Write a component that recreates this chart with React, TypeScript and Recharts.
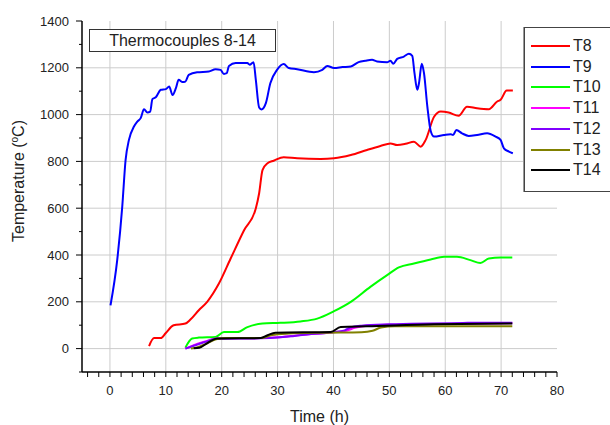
import { LineChart, Line, XAxis, YAxis, ReferenceLine } from 'recharts'

// [time h, temperature °C]
const T8: [number, number][] = [
  [7.0, 11], [7.9, 45], [9.1, 45], [10.0, 67], [11.4, 100], [13.5, 107], [14.4, 124], [15.9, 164],
  [17.4, 200], [19.5, 278], [21.6, 385], [24.0, 506], [26.1, 599], [26.7, 664], [27.3, 763],
  [28.2, 792], [29.3, 803], [31.1, 818], [33.5, 813], [37.7, 810], [40.1, 813], [43.1, 827],
  [46.0, 849], [48.4, 866], [50.2, 877], [51.4, 870], [52.9, 875], [54.4, 884], [55.6, 863],
  [56.5, 892], [58.0, 991], [59.2, 1013], [60.6, 1009], [62.4, 995], [63.9, 1034], [65.7, 1027],
  [67.8, 1023], [69.3, 1056], [69.9, 1063], [71.0, 1103], [72.1, 1103],
]
const T9: [number, number][] = [
  [0.1, 185], [1.3, 378], [2.2, 606], [2.8, 806], [3.4, 892], [4.3, 949], [4.9, 970], [5.5, 985],
  [6.1, 1023], [6.7, 1009], [7.2, 1013], [7.6, 1066], [8.2, 1074], [9.1, 1106], [10.0, 1109],
  [10.6, 1120], [11.2, 1084], [11.8, 1113], [12.3, 1149], [13.0, 1139], [13.5, 1141], [14.1, 1170],
  [15.6, 1181], [17.7, 1184], [18.9, 1194], [19.8, 1191], [20.4, 1174], [20.9, 1177], [21.3, 1208],
  [22.5, 1220], [24.6, 1220], [25.0, 1213], [25.7, 1224], [26.1, 1149], [26.7, 1030], [27.1, 1022],
  [27.9, 1049], [28.7, 1134], [29.9, 1191], [31.1, 1216], [32.0, 1199], [33.5, 1194], [36.5, 1181],
  [38.0, 1191], [38.9, 1208], [40.1, 1199], [41.6, 1203], [43.1, 1206], [44.5, 1224], [45.7, 1230],
  [46.9, 1234], [47.8, 1227], [49.6, 1224], [50.2, 1230], [50.7, 1217], [51.4, 1238], [52.6, 1248],
  [53.5, 1260], [54.1, 1251], [54.5, 1177], [55.0, 1106], [55.3, 1134], [55.8, 1217], [56.2, 1177],
  [56.8, 1034], [57.4, 930], [58.0, 906], [59.8, 913], [61.0, 916], [61.4, 913], [62.0, 934],
  [63.0, 920], [64.2, 909], [65.7, 913], [67.5, 920], [69.0, 906], [69.9, 892], [70.5, 856],
  [71.4, 842], [72.1, 835],
]
const T10: [number, number][] = [
  [13.5, 4], [14.7, 43], [15.9, 47], [18.9, 50], [20.4, 71], [22.8, 71], [24.6, 92], [27.3, 107],
  [30.5, 110], [34.1, 116], [37.1, 128], [40.1, 160], [43.1, 200], [46.6, 264], [49.6, 314],
  [51.7, 347], [54.4, 364], [57.4, 381], [59.8, 392], [62.1, 392], [64.5, 378], [66.3, 366],
  [67.8, 385], [69.9, 389], [72.0, 389],
]
const T11: [number, number][] = [
  [13.5, 0], [15, 15], [17, 30], [19, 43], [27, 45], [30, 48], [33, 55], [36, 62], [39, 68],
  [42, 75], [44, 90], [46, 98], [50, 102], [60, 105], [72, 108],
]
const T12: [number, number][] = [
  [13.5, 0], [15, 12], [17, 28], [19, 42], [27, 44], [30, 47], [33, 54], [36, 62], [40, 70],
  [42, 78], [43, 90], [45, 98], [50, 104], [64, 110], [72, 111],
]
const T13: [number, number][] = [
  [14.5, 0], [16, 8], [17, 18], [19, 40], [21, 45], [27, 45], [29, 58], [32, 64], [38, 68],
  [45, 70], [47, 76], [48.5, 90], [51, 95], [72, 96],
]
const T14: [number, number][] = [
  [15, 2], [16, 4], [17.7, 28], [19.2, 43], [27, 45], [28.2, 57], [29.6, 68], [39.5, 71],
  [41.3, 92], [46, 95], [58, 104], [72, 107],
]

const SERIES = [
  { name: 'T8', color: '#ff0000', data: T8 },
  { name: 'T9', color: '#0000ff', data: T9 },
  { name: 'T10', color: '#00ff00', data: T10 },
  { name: 'T11', color: '#ff00ff', data: T11 },
  { name: 'T12', color: '#8000ff', data: T12 },
  { name: 'T13', color: '#808000', data: T13 },
  { name: 'T14', color: '#000000', data: T14 },
]

const X_TICKS = Array.from({ length: 43 }, (_, i) => -4 + i * 2)
const Y_TICKS = Array.from({ length: 16 }, (_, i) => -100 + i * 100)
const X_GRID = [0, 10, 20, 30, 40, 50, 60, 70]
const Y_GRID = [0, 200, 400, 600, 800, 1000, 1200]

const FONT = '"Liberation Sans", Arial, sans-serif'
const TEXT = '#222'

function YTick(props: any) {
  const { x, y, payload } = props
  const axisX = x + 13
  const major = payload.value % 200 === 0
  return (
    <g>
      <line x1={axisX - (major ? 6 : 3)} x2={axisX} y1={y} y2={y} stroke="#000" strokeWidth={1} />
      {major && (
        <text x={x} y={y} dy="0.355em" textAnchor="end" fontSize={13} fill={TEXT} fontFamily={FONT}>
          {payload.value}
        </text>
      )}
    </g>
  )
}

export default function App() {
  return (
    <div style={{ position: 'absolute', left: 0, top: 0, width: 610, height: 425, overflow: 'hidden', background: '#fff', fontFamily: FONT }}>
      <LineChart width={610} height={425} margin={{ top: 21, right: 53, bottom: 1, left: 22 }}>
        {X_GRID.map((v) => (
          <ReferenceLine key={'gx' + v} x={v} stroke="#cccccc" strokeWidth={1} />
        ))}
        {Y_GRID.map((v) => (
          <ReferenceLine key={'gy' + v} y={v} stroke="#cccccc" strokeWidth={1} />
        ))}
        <XAxis
          type="number"
          dataKey="t"
          domain={[-5, 80]}
          ticks={X_TICKS}
          interval={0}
          allowDataOverflow
          height={52}
          tickSize={5}
          tickMargin={9}
          tickFormatter={(v: number) => (v % 10 === 0 ? String(v) : '')}
          axisLine={{ stroke: '#000', strokeWidth: 1.5 }}
          tickLine={{ stroke: '#000' }}
          tick={{ fontSize: 13, fill: TEXT, fontFamily: FONT }}
          label={{ value: 'Time (h)', position: 'insideBottom', offset: 2, fontSize: 16, fill: TEXT, fontFamily: FONT }}
        />
        <XAxis xAxisId="top" orientation="top" type="number" domain={[-5, 80]} height={0} tick={false} tickLine={false} axisLine={{ stroke: '#000', strokeWidth: 1.5 }} />
        <YAxis
          type="number"
          domain={[-100, 1400]}
          ticks={Y_TICKS}
          interval={0}
          allowDataOverflow
          width={60}
          tickSize={6}
          tickMargin={7}
          tickLine={false}
          tick={<YTick />}
          axisLine={{ stroke: '#000', strokeWidth: 1.5 }}
          label={() => (
            <text transform="translate(23.5,181) rotate(-90)" textAnchor="middle" fontSize={16} fill={TEXT} fontFamily={FONT}>
              Temperature (<tspan dy={-6} fontSize={10}>o</tspan>
              <tspan dy={6}>C)</tspan>
            </text>
          )}
        />
        <YAxis yAxisId="right" orientation="right" type="number" domain={[-100, 1400]} width={0} tick={false} tickLine={false} axisLine={{ stroke: '#000', strokeWidth: 1.5 }} />
        {SERIES.map((s) => (
          <Line
            key={s.name}
            data={s.data.map(([t, v]) => ({ t, v }))}
            dataKey="v"
            name={s.name}
            type="monotone"
            stroke={s.color}
            strokeWidth={2}
            dot={false}
            isAnimationActive={false}
          />
        ))}
      </LineChart>
      <div
        style={{
          position: 'absolute', left: 89, top: 29, width: 185, height: 21, border: '1px solid #333',
          background: '#fff', fontSize: 16, color: TEXT, textAlign: 'center', lineHeight: '21px',
        }}
      >
        Thermocouples 8-14
      </div>
      <div
        style={{
          position: 'absolute', left: 524, top: 27, width: 95, height: 163, border: '1px solid #444',
          background: '#fff', boxShadow: '-1px 0 0 #999',
        }}
      >
        {SERIES.map((s, i) => (
          <div key={s.name} style={{ position: 'absolute', left: 6, top: 8 + i * 20.7, height: 20, display: 'flex', alignItems: 'center' }}>
            <span style={{ display: 'inline-block', width: 39, height: 2, background: s.color }} />
            <span style={{ marginLeft: 3, fontSize: 16, color: TEXT }}>{s.name}</span>
          </div>
        ))}
      </div>
    </div>
  )
}
